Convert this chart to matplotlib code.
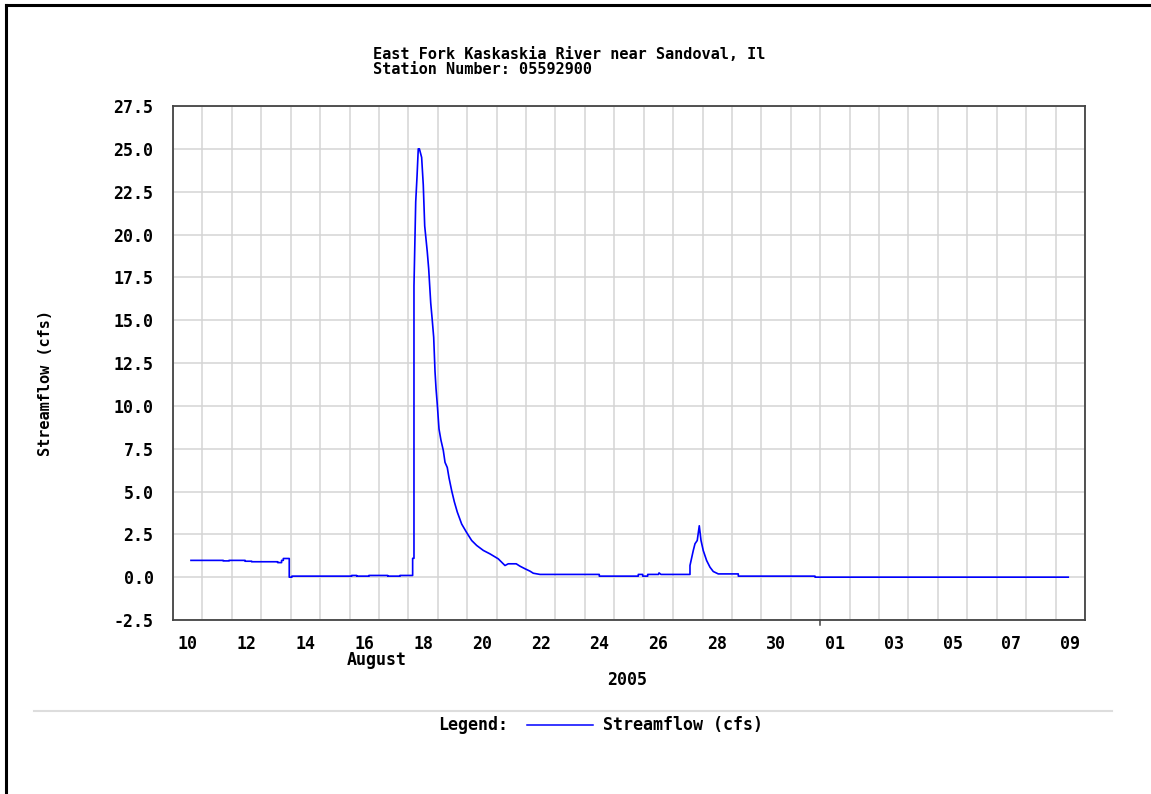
import pandas as pd
import matplotlib
matplotlib.use("Agg")
import matplotlib.pyplot as plt
import matplotlib.dates as mdates
from matplotlib.lines import Line2D

# streamflow (time, value in cfs); flat stretches are given by both ends
times = [
    "2005-08-10 14:40", "2005-08-11 17:00", "2005-08-11 17:00", "2005-08-11 21:40",
    "2005-08-11 21:40", "2005-08-12 10:50", "2005-08-12 10:50", "2005-08-12 16:10",
    "2005-08-12 16:10", "2005-08-13 13:25", "2005-08-13 13:25", "2005-08-13 16:35",
    "2005-08-13 16:35", "2005-08-13 18:00", "2005-08-13 18:00", "2005-08-13 22:50",
    "2005-08-13 22:50", "2005-08-14 01:00", "2005-08-14 01:00", "2005-08-16 01:45",
    "2005-08-16 01:45", "2005-08-16 05:50", "2005-08-16 05:50", "2005-08-16 15:50",
    "2005-08-16 15:50", "2005-08-17 07:10", "2005-08-17 07:10", "2005-08-17 17:10",
    "2005-08-17 17:10", "2005-08-18 03:30", "2005-08-18 03:30", "2005-08-18 04:35",
    "2005-08-18 04:35", "2005-08-18 06:00", "2005-08-18 07:05", "2005-08-18 08:05",
    "2005-08-18 09:00", "2005-08-18 10:50", "2005-08-18 12:10", "2005-08-18 13:20",
    "2005-08-18 15:25", "2005-08-18 16:35", "2005-08-18 18:15", "2005-08-18 19:30",
    "2005-08-18 20:40", "2005-08-18 21:45", "2005-08-18 22:35", "2005-08-18 23:35",
    "2005-08-19 01:00", "2005-08-19 02:35", "2005-08-19 04:30", "2005-08-19 05:55",
    "2005-08-19 07:45", "2005-08-19 09:10", "2005-08-19 11:20", "2005-08-19 13:30",
    "2005-08-19 15:55", "2005-08-19 19:30", "2005-08-19 23:35", "2005-08-20 03:40",
    "2005-08-20 07:45", "2005-08-20 13:10", "2005-08-20 18:35", "2005-08-21 01:20",
    "2005-08-21 06:50", "2005-08-21 09:30", "2005-08-21 16:00", "2005-08-21 19:05",
    "2005-08-21 23:10", "2005-08-22 03:15", "2005-08-22 05:55", "2005-08-22 11:25",
    "2005-08-24 11:45", "2005-08-24 11:45", "2005-08-25 19:35", "2005-08-25 19:35",
    "2005-08-25 23:10", "2005-08-25 23:10", "2005-08-26 03:15", "2005-08-26 03:15",
    "2005-08-26 12:00", "2005-08-26 12:30", "2005-08-26 14:05", "2005-08-27 13:45",
    "2005-08-27 13:45", "2005-08-27 16:25", "2005-08-27 17:50", "2005-08-27 19:40",
    "2005-08-27 21:20", "2005-08-27 22:45", "2005-08-28 00:35", "2005-08-28 03:20",
    "2005-08-28 06:05", "2005-08-28 08:45", "2005-08-28 12:50", "2005-08-29 05:10",
    "2005-08-29 05:10", "2005-08-31 19:45", "2005-08-31 19:45", "2005-09-09 10:20",
]
flow = [
    0.98, 0.98, 0.95, 0.95,
    0.98, 0.98, 0.93, 0.93,
    0.90, 0.90, 0.85, 0.85,
    0.98, 0.98, 1.09, 1.09,
    0.00, 0.00, 0.06, 0.06,
    0.10, 0.10, 0.06, 0.06,
    0.10, 0.10, 0.06, 0.06,
    0.10, 0.10, 1.10, 1.10,
    17.0, 21.9, 23.4, 25.0,
    25.0, 24.5, 22.9, 20.5,
    19.0, 18.0, 16.0, 15.0,
    14.0, 12.0, 11.0, 10.1,
    8.65, 8.0, 7.4, 6.7,
    6.4, 5.8, 5.05, 4.4,
    3.8, 3.1, 2.6, 2.14,
    1.85, 1.56, 1.36, 1.07,
    0.68, 0.78, 0.78, 0.64,
    0.49, 0.35, 0.23, 0.16,
    0.16, 0.06, 0.06, 0.16,
    0.16, 0.06, 0.06, 0.16,
    0.16, 0.25, 0.16, 0.16,
    0.68, 1.55, 1.95, 2.14,
    3.0, 2.14, 1.55, 0.97,
    0.58, 0.33, 0.19, 0.19,
    0.06, 0.06, 0.00, 0.00,
]
yticks = [-2.5, 0.0, 2.5, 5.0, 7.5, 10.0, 12.5, 15.0, 17.5, 20.0, 22.5, 25.0, 27.5]

t = pd.to_datetime(times)
font = dict(family="DejaVu Sans Mono", weight="bold", size=12)
small = dict(family="DejaVu Sans Mono", weight="bold", size=11)

fig = plt.figure(figsize=(11.51, 7.94), dpi=100)
ax = fig.add_axes([173 / 1151, 1 - 620 / 794, 912 / 1151, 514 / 794])

ax.plot(t, flow, color="#0000ff", lw=1.2)

start = pd.Timestamp("2005-08-10")
end = pd.Timestamp("2005-09-10")
ax.set_xlim(start, end)
ax.set_ylim(-2.5, 27.5)

midnights = pd.date_range(start, end, freq="D")
ax.set_xticks(midnights)
ax.set_xticklabels([])
label_days = pd.date_range("2005-08-10 12:00", "2005-09-09 12:00", freq="2D")
ax.set_xticks(label_days, minor=True)
ax.set_xticklabels([d.strftime("%d") for d in label_days], minor=True, fontdict=font)
ax.tick_params(axis="x", which="both", length=0, pad=11)

ax.set_yticks(yticks)
ax.set_yticklabels([f"{v:.1f}" for v in yticks], fontdict=font)
ax.tick_params(axis="y", length=0, pad=14)

ax.grid(True, which="major", color="#d4d4d4", lw=1.1)
ax.set_axisbelow(True)
for s in ax.spines.values():
    s.set_color("#444444")
    s.set_linewidth(1.3)

# month boundary tick
sep1 = mdates.date2num(pd.Timestamp("2005-09-01"))
ax.plot([sep1, sep1], [0, -0.009], transform=ax.get_xaxis_transform(),
        color="#444444", lw=1.1, clip_on=False)

W, H = 1151, 794
def fx(px):
    return px / W
def fy(py):
    return 1 - py / H

fig.text(fx(373), fy(59), "East Fork Kaskaskia River near Sandoval, Il",
         ha="left", va="baseline", **small)
fig.text(fx(373), fy(74), "Station Number: 05592900",
         ha="left", va="baseline", **small)
fig.text(fx(46), fy(383), "Streamflow (cfs)", rotation=90,
         ha="center", va="center", **small)
fig.text(fx(377), fy(660), "August", ha="center", va="center", **font)
fig.text(fx(627), fy(680), "2005", ha="center", va="center", **font)

# separator and legend
fig.add_artist(Line2D([fx(34), fx(1112)], [fy(711), fy(711)], color="#dddddd", lw=1.5))
fig.text(fx(438), fy(725), "Legend:", ha="left", va="center", **font)
fig.add_artist(Line2D([fx(527), fx(593)], [fy(725), fy(725)], color="#0000ff", lw=1.1))
fig.text(fx(603), fy(725), "Streamflow (cfs)", ha="left", va="center", **font)

# page border (left and top)
fig.add_artist(Line2D([fx(5.5), fx(5.5)], [0, fy(5)], color="black", lw=2.2))
fig.add_artist(Line2D([fx(5.5), 1], [fy(5), fy(5)], color="black", lw=2.2))

fig.savefig("out.png", dpi=100)
